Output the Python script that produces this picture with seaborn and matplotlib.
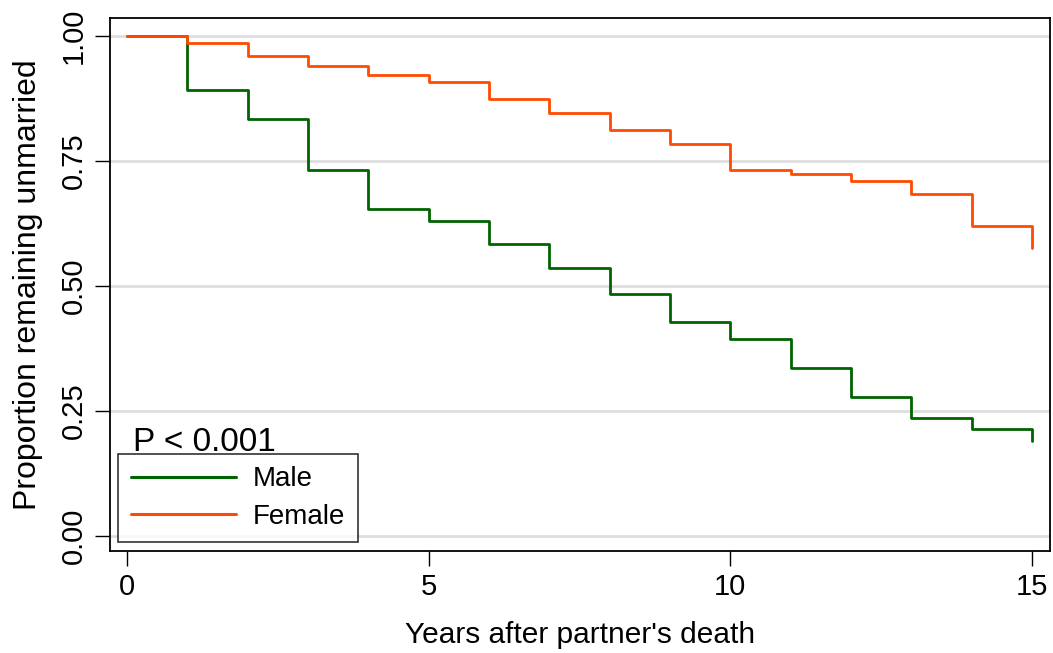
import numpy as np
import pandas as pd
import matplotlib
matplotlib.use("Agg")
import matplotlib.pyplot as plt
import seaborn as sns

# step values
years = list(range(16))
male = [1.000, 0.893, 0.835, 0.733, 0.655, 0.630, 0.585, 0.537,
        0.485, 0.429, 0.394, 0.337, 0.279, 0.236, 0.215, 0.191]
female = [1.000, 0.986, 0.960, 0.940, 0.922, 0.908, 0.875, 0.847,
          0.812, 0.785, 0.733, 0.725, 0.710, 0.685, 0.621, 0.577]
groups = ["Male", "Female"]
y_ticks = [0.00, 0.25, 0.50, 0.75, 1.00]
x_ticks = [0, 5, 10, 15]

df = pd.DataFrame({
    "year": years * 2,
    "prop": male + female,
    "sex": ["Male"] * len(male) + ["Female"] * len(female),
})

sns.set_style("white")
plt.rcParams['font.family'] = ['Liberation Sans', 'DejaVu Sans']
plt.rcParams['text.color'] = 'black'
plt.rcParams['axes.labelcolor'] = 'black'
plt.rcParams['xtick.color'] = 'black'
plt.rcParams['ytick.color'] = 'black'

fig = plt.figure(figsize=(10.53, 6.53), dpi=100)
ax = fig.add_axes([110 / 1053, 102 / 653, 940 / 1053, 533 / 653])

sns.lineplot(data=df, x="year", y="prop", hue="sex", hue_order=groups,
             palette={"Male": "#006400", "Female": "#ff4a00"},
             drawstyle="steps-post", linewidth=2, ax=ax, zorder=3)

ax.set_xlim(-0.28, 15.3)
ax.set_ylim(-0.03, 1.036)
ax.set_xticks(x_ticks)
ax.set_yticks(y_ticks)
ax.set_yticklabels([f"{v:.2f}" for v in y_ticks], rotation=90, va="center")
ax.tick_params(axis="both", direction="out", length=11, width=1,
               color="black", labelsize=21, pad=5, left=True, bottom=True)
ax.yaxis.grid(True, color="#dedede", linewidth=2)
ax.xaxis.grid(False)
for s in ax.spines.values():
    s.set_color("black")
    s.set_linewidth(1.3)

ax.set_xlabel("Years after partner's death", fontsize=21.5, labelpad=14)
ax.set_ylabel("Proportion remaining unmarried", fontsize=23, labelpad=12)

ax.text(133 / 1053, (653 - 451) / 653, "P < 0.001", fontsize=24,
        transform=fig.transFigure, ha="left", va="baseline")

leg = ax.legend(loc="lower left", bbox_to_anchor=(118 / 1053, 111 / 653),
                bbox_transform=fig.transFigure, borderaxespad=0,
                fontsize=20, handlelength=3.8, handletextpad=0.6,
                labelspacing=0.4, fancybox=False, frameon=True,
                borderpad=0.45, title=None)
leg.get_frame().set_edgecolor("black")
leg.get_frame().set_linewidth(1.2)
for h in leg.get_lines():
    h.set_linewidth(2.2)

fig.savefig("out.png", dpi=100)
